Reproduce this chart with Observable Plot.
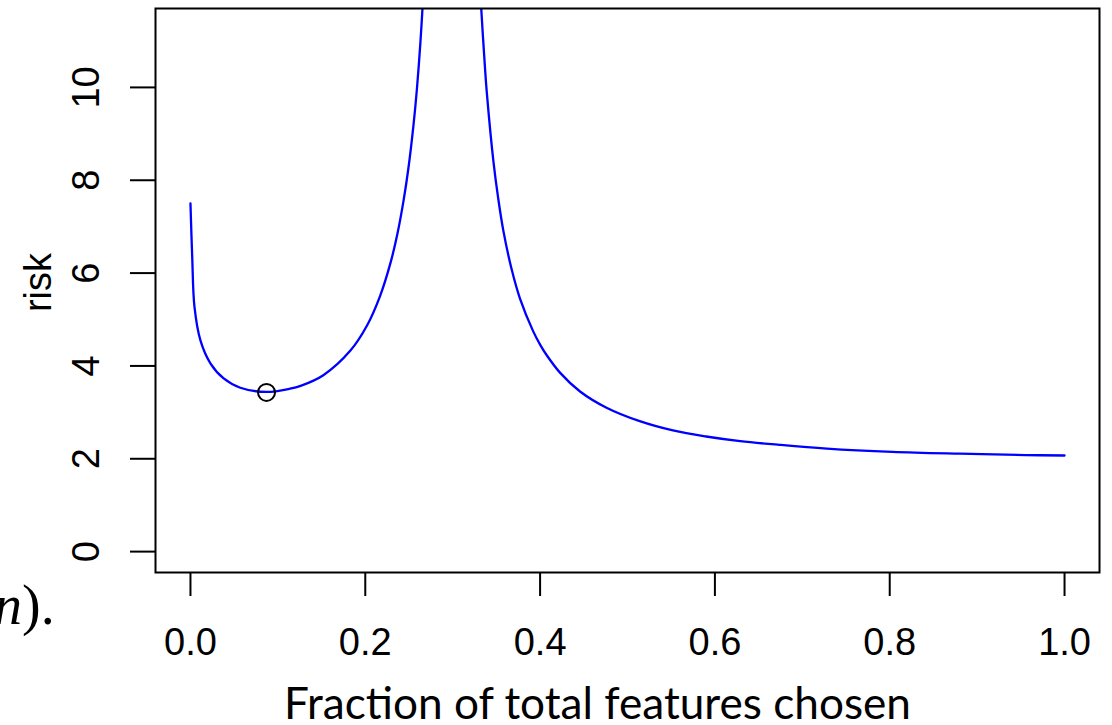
<!DOCTYPE html>
<html>
<head>
<meta charset="utf-8">
<script src="https://cdn.jsdelivr.net/npm/d3@7"></script>
<script src="https://cdn.jsdelivr.net/npm/@observablehq/plot@0.6"></script>
<style>
  html, body { margin: 0; padding: 0; background: #fff; }
  #wrap { position: relative; width: 1112px; height: 725px; overflow: hidden; background: #fff; }
  #frag { position: absolute; left: -6px; top: 577px; font-family: "Liberation Serif", serif; font-size: 56px; line-height: 1; color: #000; white-space: nowrap; }
</style>
</head>
<body>
<div id="wrap">
  <div id="chart"></div>
  <span id="frag"><i>n</i>).</span>
</div>
<script>
// Risk curve, left branch (below the interpolation threshold)
const leftFrac = [0.000, 0.002, 0.0046, 0.0114, 0.023, 0.038, 0.057, 0.087, 0.114, 0.126, 0.152, 0.183, 0.202, 0.217, 0.229, 0.2366, 0.2438, 0.2495, 0.255, 0.259, 0.263, 0.2655, 0.268];
const leftRisk = [7.50, 6.35, 5.27, 4.55, 4.05, 3.73, 3.53, 3.44, 3.51, 3.57, 3.80, 4.33, 4.87, 5.51, 6.23, 6.83, 7.56, 8.28, 9.16, 9.95, 10.95, 11.72, 12.60];
// Risk curve, right branch (above the interpolation threshold)
const rightFrac = [0.3305, 0.3326, 0.337, 0.339, 0.3467, 0.352, 0.358, 0.3676, 0.377, 0.392, 0.400, 0.4076, 0.423, 0.4457, 0.476, 0.514, 0.552, 0.590, 0.629, 0.674, 0.728, 0.803, 0.880, 0.956, 1.000];
const rightRisk = [12.50, 11.72, 10.41, 9.90, 8.39, 7.62, 6.91, 6.07, 5.45, 4.75, 4.46, 4.23, 3.85, 3.45, 3.10, 2.81, 2.61, 2.48, 2.38, 2.30, 2.22, 2.15, 2.11, 2.08, 2.07];
// Marked minimum
const minFrac = [0.087];
const minRisk = [3.43];
// Ticks and labels
const xTicks = [0, 0.2, 0.4, 0.6, 0.8, 1.0];
const yTicks = [0, 2, 4, 6, 8, 10];
const xLabel = "Fraction of total features chosen";
const yLabel = "risk";

const leftData = leftFrac.map((f, i) => ({frac: f, risk: leftRisk[i], branch: "left"}));
const rightData = rightFrac.map((f, i) => ({frac: f, risk: rightRisk[i], branch: "right"}));
const curve = leftData.concat(rightData);
const minPt = minFrac.map((f, i) => ({frac: f, risk: minRisk[i]}));

const chart = Plot.plot({
  width: 1112,
  height: 725,
  marginLeft: 155,
  marginRight: 13,
  marginTop: 8,
  marginBottom: 153,
  style: {fontFamily: "'Liberation Sans', Arial, sans-serif", background: "white", color: "black"},
  x: {domain: [-0.04, 1.04]},
  y: {domain: [-0.45, 11.70]},
  marks: [
    Plot.line(curve, {x: "frac", y: "risk", z: "branch", stroke: "#0000ff", strokeWidth: 2.3, curve: "catmull-rom", clip: true}),
    Plot.dot(minPt, {x: "frac", y: "risk", r: 8.5, stroke: "black", strokeWidth: 2, fill: "none"}),
    Plot.frame({stroke: "black", strokeWidth: 2}),
    Plot.axisX(xTicks, {tickSize: 24, tickPadding: 32, fontSize: 38, strokeWidth: 2, tickFormat: d3.format(".1f"), label: null}),
    Plot.axisY(yTicks, {tickSize: 25, strokeWidth: 2, tickFormat: () => "", label: null}),
    Plot.text(yTicks, {y: d => d, text: d => String(d), frameAnchor: "left", dx: -57, rotate: -90, textAnchor: "middle", lineAnchor: "bottom", fontSize: 38}),
    Plot.text([yLabel], {text: d => d, frameAnchor: "left", dx: -105, dy: -8, rotate: -90, textAnchor: "middle", lineAnchor: "bottom", fontSize: 38}),
    Plot.text([xLabel], {text: d => d, frameAnchor: "bottom", dx: -30, dy: 146, lineAnchor: "bottom", fontSize: 44, fontFamily: "Lato, 'Open Sans', sans-serif"})
  ]
});
document.getElementById("chart").appendChild(chart);
// fit the slide-style axis title to its width in the reference
for (const t of chart.querySelectorAll("text")) {
  if (t.textContent === xLabel) {
    t.setAttribute("textLength", 627);
    t.setAttribute("lengthAdjust", "spacingAndGlyphs");
  }
}
</script>
</body>
</html>
